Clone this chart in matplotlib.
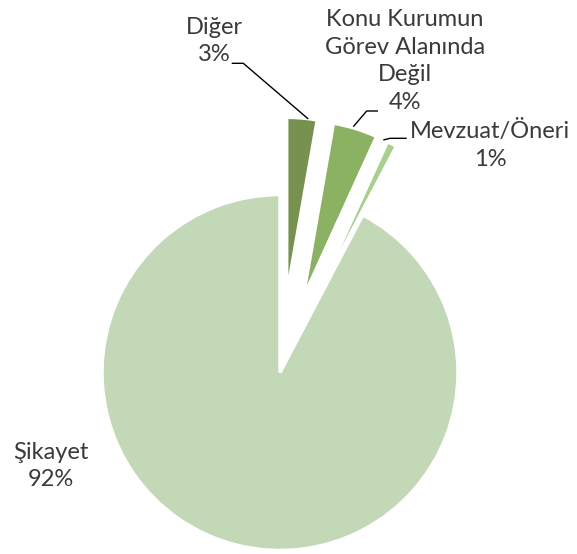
import matplotlib.pyplot as plt

categories = ["Diğer", "Konu Kurumun\nGörev Alanında\nDeğil", "Mevzuat/Öneri", "Şikayet"]
values = [2.75, 4.05, 0.9, 92.3]
pct_labels = ["3%", "4%", "1%", "92%"]
colors = ["#76924e", "#8bb263", "#a9cf8e", "#c3d8b6"]
explode_frac = [0.435, 0.435, 0.43, 0.0]

W, H = 577, 554
plt.rcParams['font.family'] = ['Lato', 'DejaVu Sans']
fig = plt.figure(figsize=(W / 100, H / 100), dpi=100)
ax = fig.add_axes([0, 0, 1, 1])
cx, cy, R = 280, H - 372.5, 178
ax.pie(values, explode=[e * R for e in explode_frac], colors=colors, startangle=90,
       counterclock=False, center=(cx, cy), radius=R,
       wedgeprops=dict(edgecolor='white', linewidth=2.5))
ax.set_xlim(0, W)
ax.set_ylim(0, H)
ax.set_aspect('equal')
ax.axis('off')

tc = '#3a3a3a'
fs = 17
def lab(x, y, s):
    ax.text(x, H - y, s, ha='center', va='center', fontsize=fs, color=tc,
            linespacing=1.4, multialignment='center')

lab(214, 41, categories[0] + "\n" + pct_labels[0])
lab(405, 61, categories[1] + "\n" + pct_labels[1])
lab(490, 145, categories[2] + "\n" + pct_labels[2])
lab(51, 466, categories[3] + "\n" + pct_labels[3])

def leader(pts):
    ax.plot([p[0] for p in pts], [H - p[1] for p in pts], color='black', lw=1.0,
            solid_capstyle='butt')

leader([(231.7, 63.3), (243.3, 63.3), (308.3, 119)])
leader([(378, 111), (366.7, 111), (353.3, 126.7)])
leader([(383.3, 140), (390, 138.3), (406.7, 138.3)])

fig.savefig('out.png', dpi=100)
